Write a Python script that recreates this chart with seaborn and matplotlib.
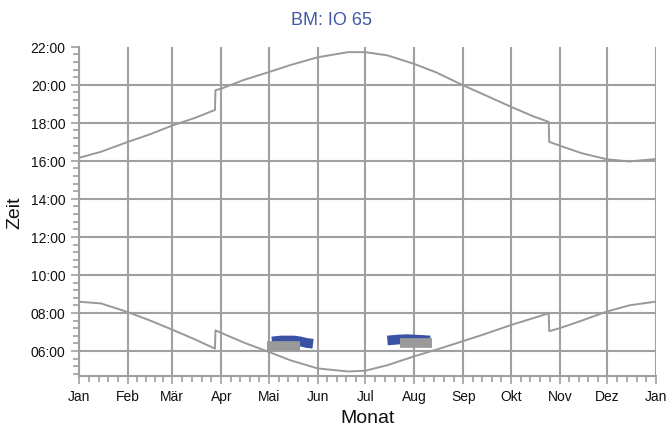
import numpy as np
import pandas as pd
import seaborn as sns
import matplotlib.pyplot as plt
from matplotlib.ticker import FuncFormatter, FixedLocator

# day of year (0 = 1. Jan) and times in hours
days = [0, 14, 31, 45, 59, 73, 86, 86.3, 90, 104, 120, 134, 151, 170, 181, 195,
        212, 226, 243, 257, 273, 287, 297, 297.3, 304, 318, 334, 348, 365]
sunrise = [8.59, 8.50, 8.04, 7.60, 7.12, 6.62, 6.12, 7.08, 6.95, 6.45, 5.95, 5.50,
           5.08, 4.92, 4.96, 5.25, 5.72, 6.07, 6.52, 6.90, 7.36, 7.72, 7.98, 7.04,
           7.20, 7.60, 8.08, 8.40, 8.60]
sunset = [16.16, 16.48, 17.00, 17.40, 17.86, 18.25, 18.68, 19.72, 19.80, 20.25,
          20.67, 21.05, 21.45, 21.72, 21.72, 21.55, 21.10, 20.65, 19.97, 19.45,
          18.85, 18.35, 18.05, 17.00, 16.80, 16.40, 16.08, 15.97, 16.10]

# activity blobs (blue = first record, grey = second)
blue1_days = [122, 128, 132, 136, 140, 144, 148]
blue1_times = [6.50, 6.55, 6.55, 6.55, 6.50, 6.42, 6.38]
grey1_days = [119, 126, 131, 136, 140]
grey1_times = [6.25, 6.25, 6.25, 6.25, 6.25]
blue2_days = [195, 202, 207, 212, 217, 222]
blue2_times = [6.55, 6.60, 6.62, 6.60, 6.58, 6.55]
grey2_days = [203, 209, 214, 219, 223]
grey2_times = [6.42, 6.42, 6.42, 6.42, 6.42]

month_starts = [0, 31, 59, 90, 120, 151, 181, 212, 243, 273, 304, 334, 365]
month_labels = ["Jan", "Feb", "Mär", "Apr", "Mai", "Jun", "Jul", "Aug", "Sep",
                "Okt", "Nov", "Dez", "Jan"]

sns.set_style("white")
plt.rcParams["font.family"] = ["Liberation Sans Narrow", "Liberation Sans", "DejaVu Sans"]

fig = plt.figure(figsize=(6.69, 4.27), dpi=100)
ax = fig.add_axes([0.118, 0.117, 0.863, 0.771])

grid_c = "#a0a0a0"
line_c = "#999999"
blue_c = "#3a52a6"

sun = pd.DataFrame({"day": days, "rise": sunrise, "set": sunset})
sns.lineplot(data=sun, x="day", y="set", estimator=None, sort=False,
             color=line_c, linewidth=1.4, ax=ax)
sns.lineplot(data=sun, x="day", y="rise", estimator=None, sort=False,
             color=line_c, linewidth=1.4, ax=ax)

for d, t, c in [(blue1_days, blue1_times, blue_c),
                (blue2_days, blue2_times, blue_c),
                (grey1_days, grey1_times, "#9a9a9a"),
                (grey2_days, grey2_times, "#9a9a9a")]:
    ax.plot(d, t, color=c, linewidth=7, solid_capstyle="butt", zorder=5)

ax.set_xlim(0, 365)
ax.set_ylim(4.68, 22)

ax.set_xticks(month_starts)
ax.set_xticklabels(month_labels)
minor_x = []
for a, b in zip(month_starts[:-1], month_starts[1:]):
    minor_x += list(np.linspace(a, b, 6)[1:-1])
ax.xaxis.set_minor_locator(FixedLocator(minor_x))

ax.set_yticks(range(6, 23, 2))
ax.yaxis.set_major_formatter(FuncFormatter(lambda v, p: f"{int(v):02d}:00"))
minor_y = [v for v in np.arange(22, 4.6, -0.4) if abs(v - round(v / 2) * 2) > 0.05]
ax.yaxis.set_minor_locator(FixedLocator(minor_y))

ax.grid(True, which="major", color=grid_c, linewidth=1.5)
ax.grid(False, which="minor")
# no horizontal grid at the top (22:00)
ax.get_ygridlines()[-1].set_visible(False)

for s in ["top", "right"]:
    ax.spines[s].set_visible(False)
for s in ["left", "bottom"]:
    ax.spines[s].set_color(grid_c)
    ax.spines[s].set_linewidth(1.5)

ax.tick_params(axis="both", which="major", length=6, width=1.2, color=grid_c,
               labelsize=10, labelcolor="#111111", direction="out")
ax.tick_params(axis="both", which="minor", length=4, width=1.2, color=grid_c,
               direction="out")
ax.tick_params(axis="x", which="both", bottom=True)
ax.tick_params(axis="y", which="both", left=True)

ax.set_xlabel("Monat", fontsize=14, color="#111111", labelpad=4)
ax.set_ylabel("Zeit", fontsize=14, color="#111111", labelpad=5)
fig.text(0.495, 0.952, "BM: IO 65", fontsize=13, color="#3f58a8",
         ha="center", va="center")

fig.savefig("out.png", dpi=100)
